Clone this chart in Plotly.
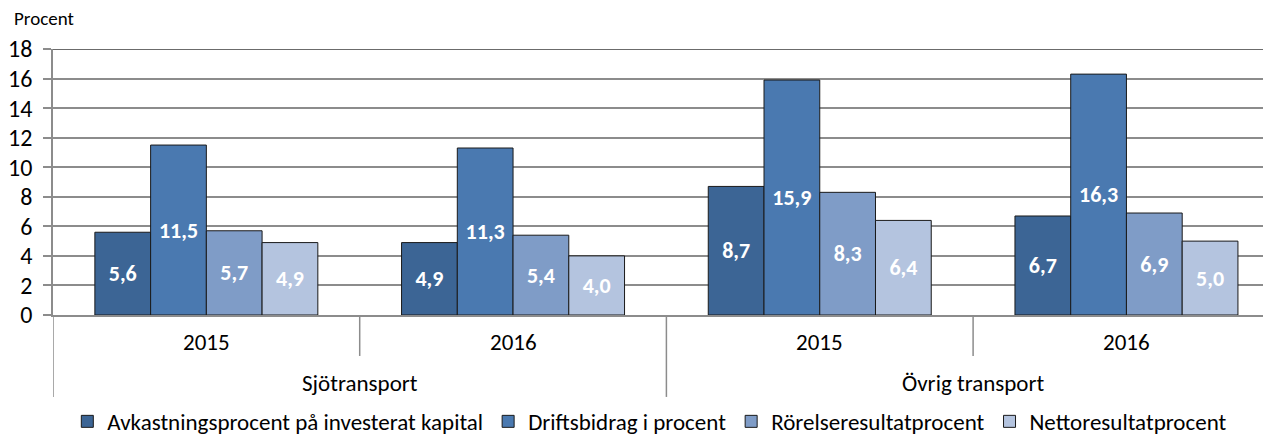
import plotly.graph_objects as go

groups = ["Sjötransport", "Sjötransport", "Övrig transport", "Övrig transport"]
years = ["2015", "2016", "2015", "2016"]

series_names = [
    "Avkastningsprocent på investerat kapital",
    "Driftsbidrag i procent",
    "Rörelseresultatprocent",
    "Nettoresultatprocent",
]
avkastning = [5.6, 4.9, 8.7, 6.7]
driftsbidrag = [11.5, 11.3, 15.9, 16.3]
rorelse = [5.7, 5.4, 8.3, 6.9]
netto = [4.9, 4.0, 6.4, 5.0]
values = [avkastning, driftsbidrag, rorelse, netto]
colors = ["#3C6595", "#4A79B0", "#7F9CC7", "#B4C4DF"]
y_ticks = [0, 2, 4, 6, 8, 10, 12, 14, 16, 18]

FONT = "Carlito, Calibri, Lato, Liberation Sans, Arial, sans-serif"
GRID = "#8c8c8c"

cats = [f"{g} {y}" for g, y in zip(groups, years)]

# The page body has an 8px margin, so the figure is sized to fit the window.
W, H = 1263, 428

fig = go.Figure()
for name, vals, col in zip(series_names, values, colors):
    fig.add_trace(go.Bar(
        x=cats, y=vals, name=name,
        marker=dict(color=col, line=dict(color="#1a1a1a", width=1)),
        text=[f"{v:.1f}".replace(".", ",") for v in vals],
        textposition="inside", insidetextanchor="middle",
        textfont=dict(color="white", size=22, family=FONT, weight="bold"),
        textangle=0, cliponaxis=False,
    ))

fig.update_layout(
    barmode="group", bargap=0.273, bargroupgap=0,
    width=W, height=H,
    margin=dict(l=45, r=0, t=41, b=121, autoexpand=False),
    plot_bgcolor="white", paper_bgcolor="white",
    font=dict(family=FONT, color="#000000"),
    showlegend=True,
    legend=dict(orientation="h", x=0.49, xanchor="center", y=-0.4, yanchor="middle",
                font=dict(size=23, family=FONT), traceorder="normal",
                itemwidth=30, tracegroupgap=0),
    uniformtext=dict(minsize=10, mode="show"),
)
fig.update_yaxes(range=[0, 18], tickvals=y_ticks, showgrid=True, gridcolor=GRID,
                 gridwidth=1.5, ticks="outside", ticklen=8, tickcolor=GRID, tickwidth=1.5,
                 showline=True, linecolor=GRID, linewidth=1.5,
                 tickfont=dict(size=24, family=FONT), zeroline=False,
                 ticklabelstandoff=6, automargin=False)
fig.update_xaxes(range=[-0.5, -0.5 + (W - 45) / 306.7], showline=True, linecolor=GRID,
                 linewidth=1.5, showticklabels=False, ticks="", automargin=False)

# top border line at the axis maximum
fig.add_shape(type="line", xref="paper", yref="y", x0=0, x1=1, y0=y_ticks[-1], y1=y_ticks[-1],
              line=dict(color="#3a3a3a", width=1.5))

# year labels
for c, yr in zip(cats, years):
    fig.add_annotation(text=yr, x=c, xref="x", yref="paper", y=-0.1015, yanchor="middle",
                       showarrow=False, font=dict(size=23, family=FONT))
# group labels and dividers
uniq = []
for g in groups:
    if g not in uniq:
        uniq.append(g)
for g in uniq:
    idx = [i for i, gg in enumerate(groups) if gg == g]
    fig.add_annotation(text=g, x=sum(idx) / len(idx), xref="x", yref="paper", y=-0.2556,
                       yanchor="middle", showarrow=False, font=dict(size=23, family=FONT))
    fig.add_shape(type="line", xref="x", yref="paper", x0=idx[0] - 0.5, x1=idx[0] - 0.5,
                  y0=0, y1=-0.308, line=dict(color=GRID, width=1.5))
    for i in idx[1:]:
        fig.add_shape(type="line", xref="x", yref="paper", x0=i - 0.5, x1=i - 0.5,
                      y0=0, y1=-0.154, line=dict(color=GRID, width=1.5))

fig.add_annotation(text="Procent", xref="paper", yref="paper", x=-0.034, y=1.065,
                   xanchor="left", yanchor="bottom", showarrow=False,
                   font=dict(size=19, family=FONT))
fig.write_html("out.html")
